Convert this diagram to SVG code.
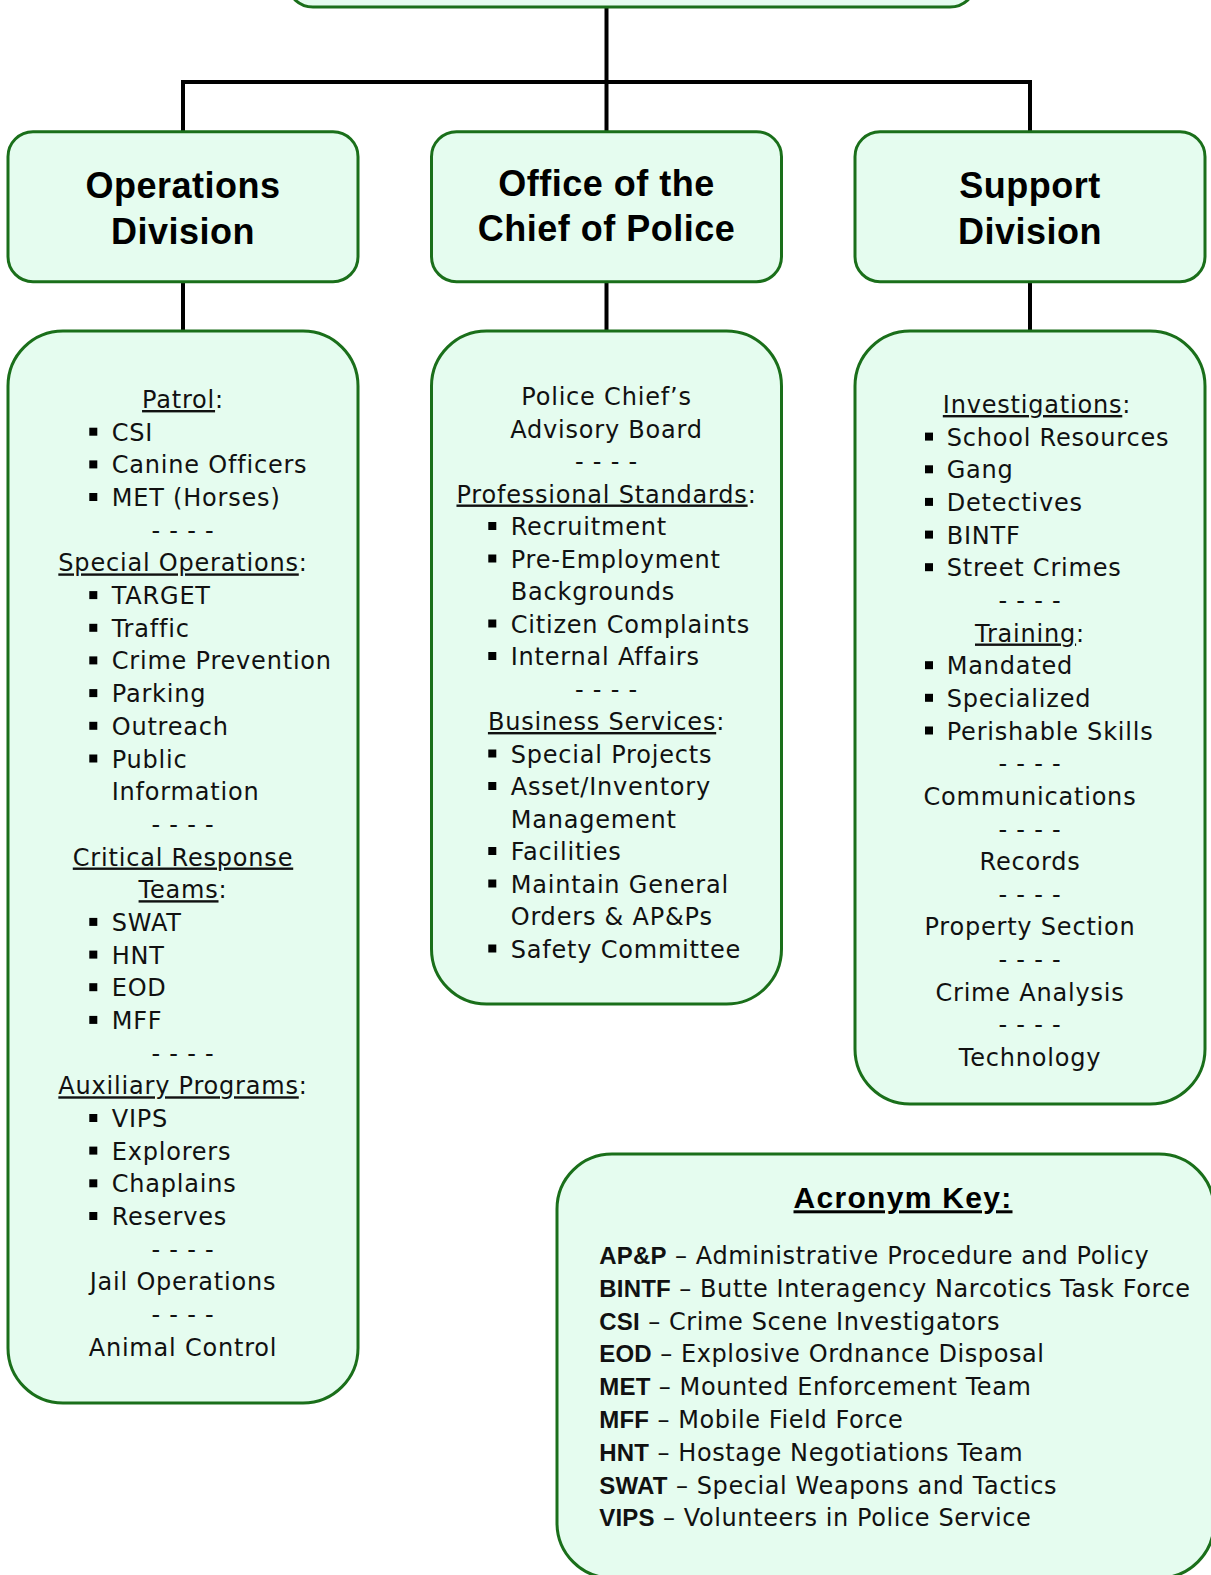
<svg xmlns="http://www.w3.org/2000/svg" width="1211" height="1575" viewBox="0 0 1211 1575">
  <style>
    .box { fill: #E5FCEF; stroke: #1A6F1A; stroke-width: 3; }
    .conn { fill: none; stroke: #000; stroke-width: 4; stroke-linejoin: miter; }
    .hd { font-family: "Liberation Sans", Arial, sans-serif; font-weight: bold; font-size: 36px; letter-spacing: 0.5px; text-anchor: middle; fill: #000; }
    .t { font-family: "DejaVu Sans", "Noto Sans", sans-serif; font-size: 24px; letter-spacing: 0.8px; fill: #111; }
    .k { letter-spacing: 0.6px; }
    .c { text-anchor: middle; }
    .u { text-decoration: underline; }
    .kb { font-family: "Liberation Sans", Arial, sans-serif; font-weight: bold; letter-spacing: 0.2px; }
    .kh { font-family: "Liberation Sans", Arial, sans-serif; font-weight: bold; font-size: 30px; letter-spacing: 1.3px; text-anchor: middle; text-decoration: underline; fill: #000; }
  </style>
  <defs>
    <rect id="bul" width="8" height="8" fill="#000"/>
  </defs>

  <!-- connectors -->
  <g id="connectors">
    <path class="conn" d="M606.5 7 V82 M183 131.7 V82 H1030 V131.7 M606.5 82 V131.7"/>
    <path class="conn" d="M183 281.7 V330.7 M606.5 281.7 V330.7 M1030 281.7 V330.7"/>
  </g>

  <!-- top node (only its lower edge is in view) -->
  <g id="top-node">
    <rect class="box" x="288" y="-40" width="687" height="47" rx="25"/>
  </g>

  <!-- division headers -->
  <g id="operations-division">
    <rect class="box" x="8" y="131.7" width="350" height="150" rx="25"/>
    <text class="hd" x="183" y="197.5">Operations</text>
    <text class="hd" x="183" y="243.5">Division</text>
  </g>
  <g id="office-of-chief">
    <rect class="box" x="431.5" y="131.7" width="350" height="150" rx="25"/>
    <text class="hd" x="606.5" y="195.5">Office of the</text>
    <text class="hd" x="606.5" y="241">Chief of Police</text>
  </g>
  <g id="support-division">
    <rect class="box" x="855" y="131.7" width="350" height="150" rx="25"/>
    <text class="hd" x="1030" y="197.5">Support</text>
    <text class="hd" x="1030" y="243.5">Division</text>
  </g>

  <!-- Operations units -->
  <g id="operations-units">
    <rect class="box" x="8" y="331" width="350" height="1072" rx="55"/>
    <g class="t">
      <text class="c" x="183" y="408"><tspan class="u">Patrol</tspan>:</text>
      <text x="111.7" y="440.7">CSI</text>
      <text x="111.7" y="473.4">Canine Officers</text>
      <text x="111.7" y="506">MET (Horses)</text>
      <text class="c" x="183" y="538.7">- - - -</text>
      <text class="c" x="183" y="571.4"><tspan class="u">Special Operations</tspan>:</text>
      <text x="111.7" y="604.1">TARGET</text>
      <text x="111.7" y="636.8">Traffic</text>
      <text x="111.7" y="669.4">Crime Prevention</text>
      <text x="111.7" y="702.1">Parking</text>
      <text x="111.7" y="734.8">Outreach</text>
      <text x="111.7" y="767.5">Public</text>
      <text x="111.7" y="800.2">Information</text>
      <text class="c" x="183" y="832.8">- - - -</text>
      <text class="c" x="183" y="865.5"><tspan class="u">Critical Response</tspan></text>
      <text class="c" x="183" y="898.2"><tspan class="u">Teams</tspan>:</text>
      <text x="111.7" y="930.9">SWAT</text>
      <text x="111.7" y="963.6">HNT</text>
      <text x="111.7" y="996.2">EOD</text>
      <text x="111.7" y="1028.9">MFF</text>
      <text class="c" x="183" y="1061.6">- - - -</text>
      <text class="c" x="183" y="1094.3"><tspan class="u">Auxiliary Programs</tspan>:</text>
      <text x="111.7" y="1127">VIPS</text>
      <text x="111.7" y="1159.6">Explorers</text>
      <text x="111.7" y="1192.3">Chaplains</text>
      <text x="111.7" y="1225">Reserves</text>
      <text class="c" x="183" y="1257.7">- - - -</text>
      <text class="c" x="183" y="1290.4">Jail Operations</text>
      <text class="c" x="183" y="1323">- - - -</text>
      <text class="c" x="183" y="1355.7">Animal Control</text>
    </g>
    <use href="#bul" x="89.3" y="427.7"/>
    <use href="#bul" x="89.3" y="460.4"/>
    <use href="#bul" x="89.3" y="493"/>
    <use href="#bul" x="89.3" y="591.1"/>
    <use href="#bul" x="89.3" y="623.8"/>
    <use href="#bul" x="89.3" y="656.4"/>
    <use href="#bul" x="89.3" y="689.1"/>
    <use href="#bul" x="89.3" y="721.8"/>
    <use href="#bul" x="89.3" y="754.5"/>
    <use href="#bul" x="89.3" y="917.9"/>
    <use href="#bul" x="89.3" y="950.6"/>
    <use href="#bul" x="89.3" y="983.2"/>
    <use href="#bul" x="89.3" y="1015.9"/>
    <use href="#bul" x="89.3" y="1114"/>
    <use href="#bul" x="89.3" y="1146.6"/>
    <use href="#bul" x="89.3" y="1179.3"/>
    <use href="#bul" x="89.3" y="1212"/>
  </g>

  <!-- Office of the Chief units -->
  <g id="office-units">
    <rect class="box" x="431.5" y="331" width="350" height="673" rx="55"/>
    <g class="t">
      <text class="c" x="606.5" y="405">Police Chief’s</text>
      <text class="c" x="606.5" y="437.5">Advisory Board</text>
      <text class="c" x="606.5" y="470">- - - -</text>
      <text class="c" x="606.5" y="502.5"><tspan class="u">Professional Standards</tspan>:</text>
      <text x="510.7" y="535">Recruitment</text>
      <text x="510.7" y="567.5">Pre-Employment</text>
      <text x="510.7" y="600">Backgrounds</text>
      <text x="510.7" y="632.5">Citizen Complaints</text>
      <text x="510.7" y="665">Internal Affairs</text>
      <text class="c" x="606.5" y="697.5">- - - -</text>
      <text class="c" x="606.5" y="730"><tspan class="u">Business Services</tspan>:</text>
      <text x="510.7" y="762.5">Special Projects</text>
      <text x="510.7" y="795">Asset/Inventory</text>
      <text x="510.7" y="827.5">Management</text>
      <text x="510.7" y="860">Facilities</text>
      <text x="510.7" y="892.5">Maintain General</text>
      <text x="510.7" y="925">Orders &amp; AP&amp;Ps</text>
      <text x="510.7" y="957.5">Safety Committee</text>
    </g>
    <use href="#bul" x="488.3" y="522"/>
    <use href="#bul" x="488.3" y="554.5"/>
    <use href="#bul" x="488.3" y="619.5"/>
    <use href="#bul" x="488.3" y="652"/>
    <use href="#bul" x="488.3" y="749.5"/>
    <use href="#bul" x="488.3" y="782"/>
    <use href="#bul" x="488.3" y="847"/>
    <use href="#bul" x="488.3" y="879.5"/>
    <use href="#bul" x="488.3" y="944.5"/>
  </g>

  <!-- Support units -->
  <g id="support-units">
    <rect class="box" x="855" y="331" width="350" height="773" rx="55"/>
    <g class="t">
      <text class="c" x="1037" y="413"><tspan class="u">Investigations</tspan>:</text>
      <text x="946.7" y="445.6">School Resources</text>
      <text x="946.7" y="478.3">Gang</text>
      <text x="946.7" y="510.9">Detectives</text>
      <text x="946.7" y="543.6">BINTF</text>
      <text x="946.7" y="576.2">Street Crimes</text>
      <text class="c" x="1030" y="608.9">- - - -</text>
      <text class="c" x="1030" y="641.5"><tspan class="u">Training</tspan>:</text>
      <text x="946.7" y="674.2">Mandated</text>
      <text x="946.7" y="706.8">Specialized</text>
      <text x="946.7" y="739.5">Perishable Skills</text>
      <text class="c" x="1030" y="772.2">- - - -</text>
      <text class="c" x="1030" y="804.8">Communications</text>
      <text class="c" x="1030" y="837.5">- - - -</text>
      <text class="c" x="1030" y="870.1">Records</text>
      <text class="c" x="1030" y="902.8">- - - -</text>
      <text class="c" x="1030" y="935.4">Property Section</text>
      <text class="c" x="1030" y="968.1">- - - -</text>
      <text class="c" x="1030" y="1000.7">Crime Analysis</text>
      <text class="c" x="1030" y="1033.4">- - - -</text>
      <text class="c" x="1030" y="1066">Technology</text>
    </g>
    <use href="#bul" x="925" y="432.6"/>
    <use href="#bul" x="925" y="465.3"/>
    <use href="#bul" x="925" y="497.9"/>
    <use href="#bul" x="925" y="530.6"/>
    <use href="#bul" x="925" y="563.2"/>
    <use href="#bul" x="925" y="661.2"/>
    <use href="#bul" x="925" y="693.8"/>
    <use href="#bul" x="925" y="726.5"/>
  </g>

  <!-- acronym key -->
  <g id="acronym-key">
    <rect class="box" x="557" y="1154" width="657" height="424" rx="55"/>
    <text class="kh" x="903" y="1208.3">Acronym Key:</text>
    <g class="t k">
      <text x="599.3" y="1264"><tspan class="kb">AP&amp;P</tspan> – Administrative Procedure and Policy</text>
      <text x="599.3" y="1296.8"><tspan class="kb">BINTF</tspan> – Butte Interagency Narcotics Task Force</text>
      <text x="599.3" y="1329.6"><tspan class="kb">CSI</tspan> – Crime Scene Investigators</text>
      <text x="599.3" y="1362.4"><tspan class="kb">EOD</tspan> – Explosive Ordnance Disposal</text>
      <text x="599.3" y="1395.2"><tspan class="kb">MET</tspan> – Mounted Enforcement Team</text>
      <text x="599.3" y="1428"><tspan class="kb">MFF</tspan> – Mobile Field Force</text>
      <text x="599.3" y="1460.8"><tspan class="kb">HNT</tspan> – Hostage Negotiations Team</text>
      <text x="599.3" y="1493.6"><tspan class="kb">SWAT</tspan> – Special Weapons and Tactics</text>
      <text x="599.3" y="1526.4"><tspan class="kb">VIPS</tspan> – Volunteers in Police Service</text>
    </g>
  </g>
</svg>
